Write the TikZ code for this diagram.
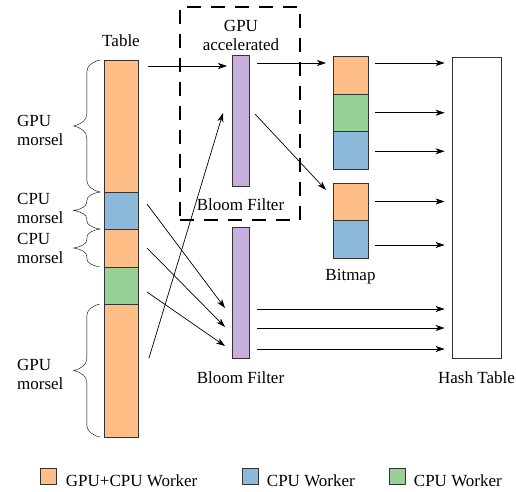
\documentclass[tikz,border=0pt]{standalone}
\usepackage{fontspec}
\setmainfont{Liberation Serif}
\usepackage{xcolor}
\usetikzlibrary{arrows.meta,positioning,decorations.pathreplacing}
\definecolor{colorGpu}{HTML}{FFBE86}
\definecolor{colorCpu}{HTML}{8CB9D9}
\definecolor{colorCpuB}{HTML}{98D196}
\definecolor{colorBF}{HTML}{C7AFDB}
\definecolor{colorLine}{HTML}{333333}

\begin{document}
\begin{tikzpicture}[x=1pt,y=-1pt,>={Stealth[length=9pt,width=6pt,inset=2.5pt]},font=\fontsize{17}{19}\selectfont,every node/.append style={align=center},seg/.style={draw=colorLine, line width=0.8pt, minimum width=34pt, inner sep=0pt, outer sep=0pt},bf/.style={draw=colorLine, fill=colorBF, line width=0.8pt, minimum width=17pt, minimum height=131pt, inner sep=0pt, outer sep=0pt},bit/.style={draw=colorLine, line width=0.8pt, minimum width=35pt, minimum height=37.5pt, inner sep=0pt, outer sep=0pt},leg/.style={draw=colorLine, line width=0.8pt, minimum size=16pt, inner sep=0pt},bigbrace/.style={decorate, decoration={brace, amplitude=12pt, transform={yscale=2.2}}},smallbrace/.style={decorate, decoration={brace, amplitude=8.5pt, transform={yscale=3.1}}},arr/.style={->, line width=0.7pt},]
    \useasboundingbox (0,0) rectangle (516,491);
    % table
    \node [seg, fill=colorGpu, minimum height=132pt] (T1) at (121,126) {};
    \node [seg, fill=colorCpu, minimum height=37pt, below=0pt of T1] (T2) {};
    \node [seg, fill=colorGpu, minimum height=38pt, below=0pt of T2] (T3) {};
    \node [seg, fill=colorCpuB, minimum height=37pt, below=0pt of T3] (T4) {};
    \node [seg, fill=colorGpu, minimum height=133pt, below=0pt of T4] (T5) {};
    \node [above=10pt of T1] (table) {Table};
    \draw [bigbrace] ([xshift=-4pt]T1.south west) -- ([xshift=-4pt]T1.north west) node [midway, left=33pt, align=left, yshift=-4pt] {GPU\\morsel};
    \draw [smallbrace] ([xshift=-4pt]T2.south west) -- ([xshift=-4pt]T2.north west) node [midway, left=33pt, align=left, yshift=2pt] {CPU\\morsel};
    \draw [smallbrace] ([xshift=-4pt]T3.south west) -- ([xshift=-4pt]T3.north west) node [midway, left=33pt, align=left] {CPU\\morsel};
    \draw [bigbrace] ([xshift=-4pt]T5.south west) -- ([xshift=-4pt]T5.north west) node [midway, left=33pt, align=left, yshift=-4pt] {GPU\\morsel};
    % bloom filters
    \node [bf] (BF1) at (240.5,120.5) {};
    \node [below=9pt of BF1] (bf1lbl) {Bloom Filter};
    \node (gpulbl) at (241,35) {GPU\\accelerated};
    \node [draw, line width=1.5pt, dash pattern=on 14pt off 10pt, minimum width=120pt, minimum height=213pt, inner sep=0pt] (gpu) at (240,113.5) {};
    \node [bf] (BF2) at (240.5,292.5) {};
    \node [below=10pt of BF2] (bf2lbl) {Bloom Filter};
    % bitmap
    \node [bit, fill=colorGpu, minimum height=38pt] (B1) at (350.5,75) {};
    \node [bit, fill=colorCpuB, below=0pt of B1] (B2) {};
    \node [bit, fill=colorCpu, below=0pt of B2] (B3) {};
    \node [bit, fill=colorGpu, minimum height=37pt] (B4) at (350.5,201.5) {};
    \node [bit, fill=colorCpu, minimum height=38pt, below=0pt of B4] (B5) {};
    \node [below=7.5pt of B5] (bitlbl) {Bitmap};
    % hash table
    \node [draw=colorLine, line width=0.8pt, minimum width=49pt, minimum height=301pt, inner sep=0pt] (HT) at (476.5,207.5) {};
    \node [below=10pt of HT] (htlbl) {Hash Table};
    % table to bloom filters
    \path[arr] ([xshift=10pt,yshift=-6pt]T1.north east) edge ([xshift=-5pt,yshift=-11pt]BF1.north west);
    \path[arr] ([xshift=11pt,yshift=12.5pt]T5.east) edge ([xshift=-9pt,yshift=7.5pt]BF1.west);
    \path[arr] ([xshift=9pt,yshift=6.5pt]T2.east) edge ([xshift=-7pt,yshift=-15.5pt]BF2.west);
    \path[arr] ([xshift=9pt]T3.east) edge ([xshift=-7pt,yshift=-34.5pt]BF2.west);
    \path[arr] ([xshift=9pt,yshift=-6.5pt]T4.east) edge ([xshift=-7pt,yshift=-53.5pt]BF2.west);
    % bloom filter to bitmap
    \path[arr] ([xshift=8pt,yshift=-8pt]BF1.north east) edge ([xshift=-7pt,yshift=-7pt]B1.north west);
    \path[arr] ([xshift=6pt,yshift=6.5pt]BF1.east) edge ([xshift=-7pt,yshift=11.5pt]B4.west);
    % into hash table
    \path[arr] ([xshift=7pt,yshift=12pt]B1.east) edge ([xshift=-7pt,yshift=12pt]B1.east -| HT.west);
    \path[arr] ([xshift=7pt]B2.east) edge ([xshift=-7pt]B2.east -| HT.west);
    \path[arr] ([xshift=7pt,yshift=-1pt]B3.east) edge ([xshift=-7pt,yshift=-1pt]B3.east -| HT.west);
    \path[arr] ([xshift=7pt]B4.east) edge ([xshift=-7pt]B4.east -| HT.west);
    \path[arr] ([xshift=7pt,yshift=-6pt]B5.east) edge ([xshift=-7pt,yshift=-6pt]B5.east -| HT.west);
    \path[arr] ([xshift=8pt,yshift=-16.5pt]BF2.east) edge ([xshift=-7pt,yshift=-16.5pt]BF2.east -| HT.west);
    \path[arr] ([xshift=8pt,yshift=-35.5pt]BF2.east) edge ([xshift=-7pt,yshift=-35.5pt]BF2.east -| HT.west);
    \path[arr] ([xshift=8pt,yshift=-56.5pt]BF2.east) edge ([xshift=-7pt,yshift=-56.5pt]BF2.east -| HT.west);
    % legend
    \node [leg, fill=colorGpu] (L1) at (48,476) {};
    \node [right=6pt of L1, yshift=-5pt] (L1t) {GPU+CPU Worker};
    \node [leg, fill=colorCpu] (L2) at (250,476) {};
    \node [right=5pt of L2, yshift=-5pt] (L2t) {CPU Worker};
    \node [leg, fill=colorCpuB] (L3) at (397,476) {};
    \node [right=5pt of L3, yshift=-5pt] (L3t) {CPU Worker};
\end{tikzpicture}
\end{document}
